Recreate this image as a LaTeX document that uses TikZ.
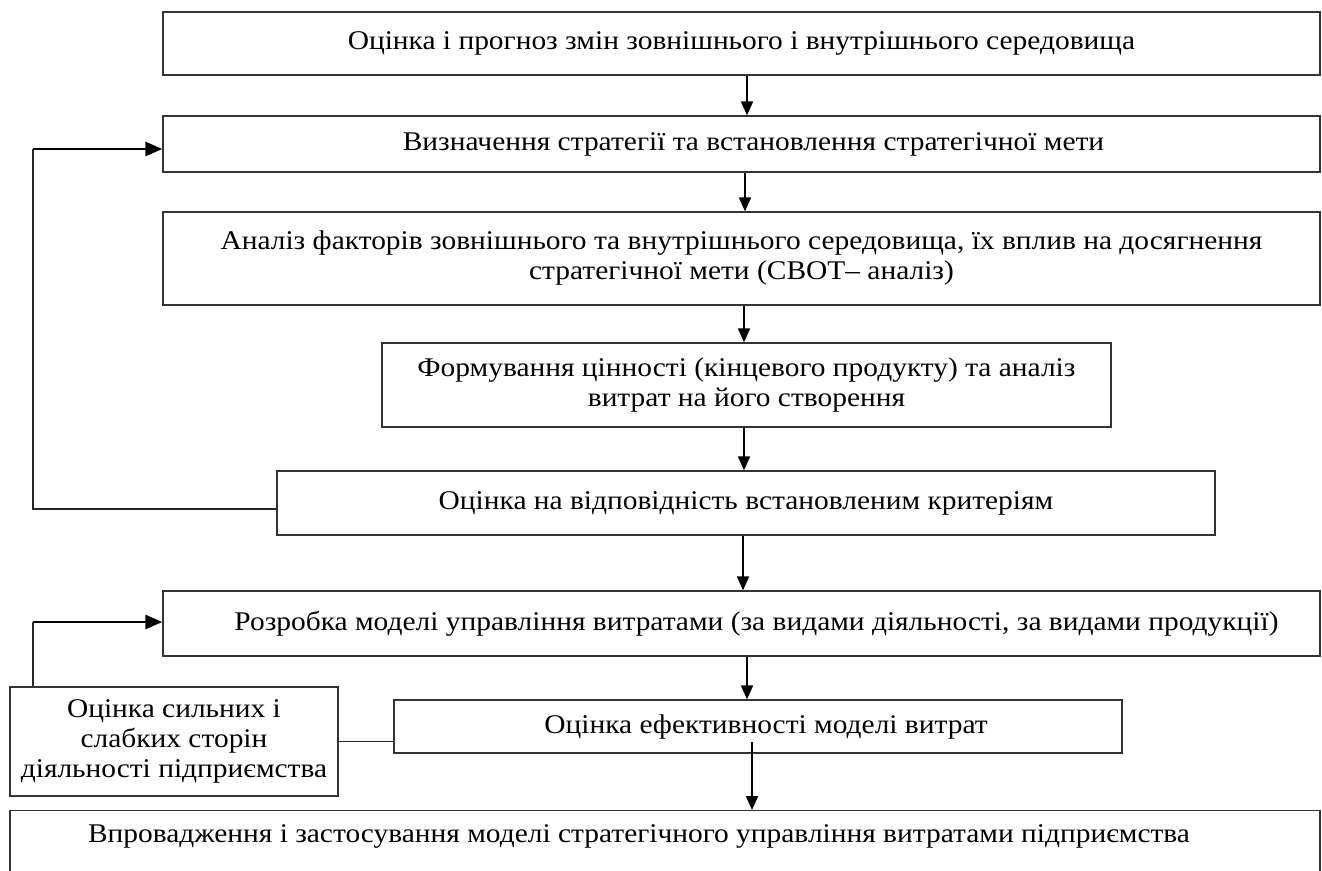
\documentclass[tikz,border=0pt]{standalone}
\usepackage{fontspec}
\setmainfont{Liberation Serif}[FakeStretch=1.09]
\usetikzlibrary{arrows.meta,calc}
\begin{document}
\begin{tikzpicture}[x=1pt,y=-1pt,
  box/.style={draw=black!80, line width=1.3pt, inner sep=0pt, align=center,
    font=\fontsize{27}{30}\selectfont, rectangle},
  arr/.style={-{Triangle[length=14pt,width=12pt]}, line width=1.8pt},
  fbarr/.style={-{Triangle[length=17pt,width=14pt]}, line width=2.8pt},
  ln/.style={line width=1.6pt, draw=black!85}]
\useasboundingbox (0,0) rectangle (1322,870);
\clip (0,0) rectangle (1322,870);
\node[box, minimum width=1157pt, minimum height=63pt] (b1) at (741.5,43.5)
  {Оцінка і прогноз змін зовнішнього і внутрішнього середовища};
\node[box, minimum width=1157pt, minimum height=56pt] (b2) at (741.5,144)
  {\hspace*{24pt}Визначення стратегії та встановлення стратегічної мети};
\node[box, minimum width=1157pt, minimum height=93pt] (b3) at (741.5,258.5)
  {Аналіз факторів зовнішнього та внутрішнього середовища, їх вплив на досягнення\\ стратегічної мети (СВОТ– аналіз)};
\node[box, minimum width=729pt, minimum height=84pt] (b4) at (746.5,385)
  {Формування цінності (кінцевого продукту) та аналіз\\ витрат на його створення};
\node[box, minimum width=938pt, minimum height=64pt] (b5) at (746,503)
  {Оцінка на відповідність встановленим критеріям};
\node[box, minimum width=1157pt, minimum height=65pt] (b6) at (741.5,623.5)
  {\hspace*{30pt}Розробка моделі управління витратами (за видами діяльності, за видами продукції)};
\node[box, minimum width=328pt, minimum height=109pt] (b7) at (174,741.5)
  {Оцінка сильних і\\ слабких сторін\\ діяльності підприємства};
\node[box, minimum width=728pt, minimum height=53pt] (b8) at (758,726.5)
  {\hspace*{16pt}Оцінка ефективності моделі витрат};
\node[box, anchor=north, minimum width=1310pt, text height=32pt, text depth=60pt] (b9) at (665,810)
  {\hspace*{-52pt}Впровадження і застосування моделі стратегічного управління витратами підприємства};

\coordinate (k1) at (33,149);
\coordinate (k2) at (33,622);
\coordinate (s8) at (752,742);

\draw[arr] ([xshift=5.5pt]b1.south) -- ([xshift=5.5pt]b2.north);
\draw[arr] ([xshift=3.5pt]b2.south) -- ([xshift=3.5pt]b3.north);
\draw[arr] ([xshift=2.5pt]b3.south) -- ([xshift=2.5pt]b3.south |- b4.north);
\draw[arr] ([xshift=-2.5pt]b4.south) -- ([xshift=-2.5pt]b4.south |- b5.north);
\draw[arr] ([xshift=-3pt]b5.south) -- ([xshift=-3pt]b5.south |- b6.north);
\draw[arr] ([xshift=5.5pt]b6.south) -- ([xshift=5.5pt]b6.south |- b8.north);
\draw[arr] (s8) -- (s8 |- b9.north);

\draw[ln] ([yshift=-6pt]b5.west) -| (k1);
\draw[fbarr] (k1) -- (k1 -| b2.west);
\draw[ln] (k2 |- b7.north) -- (k2);
\draw[fbarr] (k2) -- (k2 -| b6.west);
\draw[ln] (b7.east) -- (b7.east -| b8.west);
\end{tikzpicture}
\end{document}
